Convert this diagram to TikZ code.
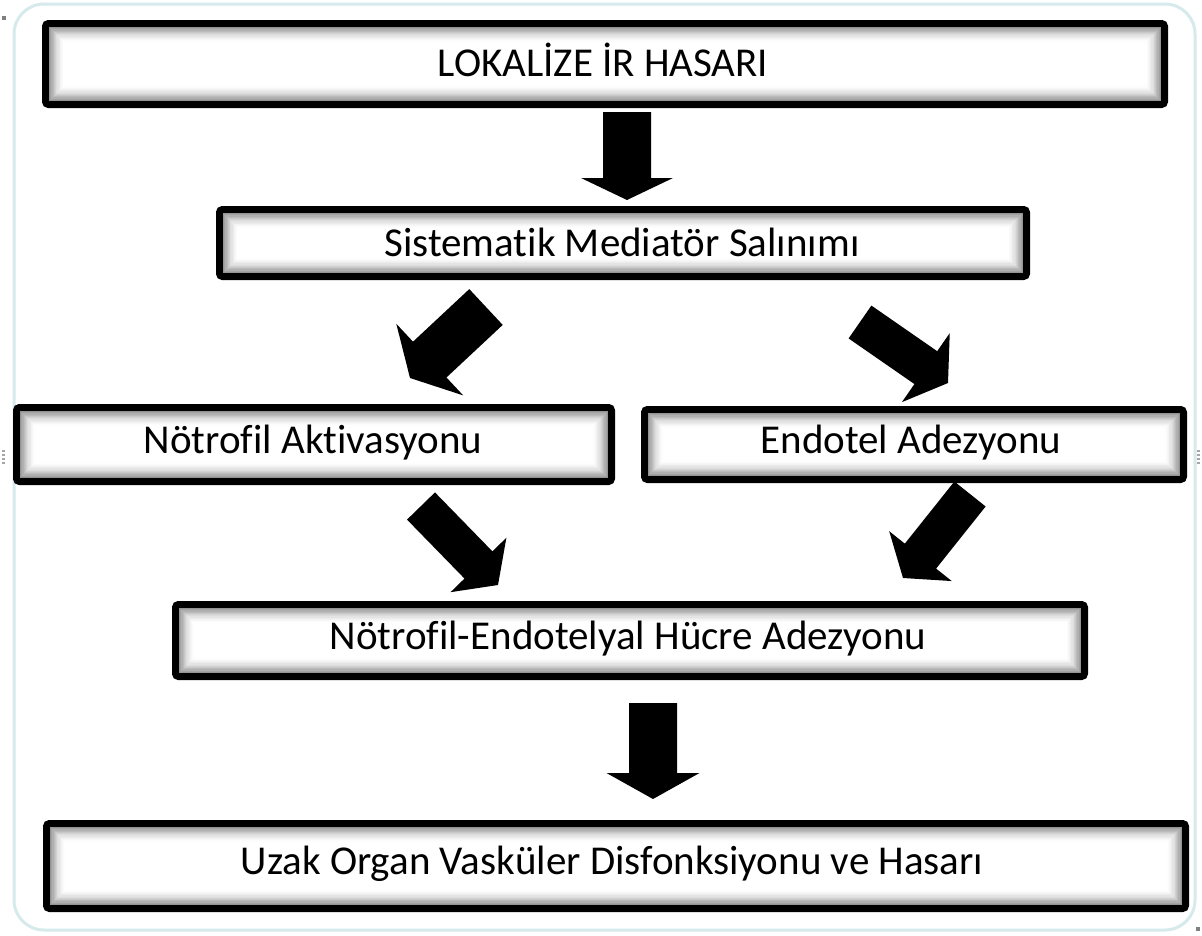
\documentclass[tikz,border=0pt]{standalone}
\usepackage{fontspec}
\setmainfont{Carlito}[Ligatures=NoCommon]
\usetikzlibrary{calc}
\definecolor{framec}{RGB}{214,234,236}
\tikzset{
  box/.style={draw=black, line width=7pt, fill=white, rounded corners=3pt,
    inner sep=0pt, outer sep=0pt, text=black},
  lbl/.style={font=\fontsize{41}{48}\selectfont, text=black, inner sep=0pt},
  blk/.style={fill=black},
}
\newcommand\glowbox[1]{%
  \foreach \i in {1,...,13}{%
    \pgfmathsetmacro\g{42*(1-(\i-1)/13)^1.8}%
    \draw[draw=black!\g, line width=1.3pt]
      ([shift={(\i*1.2+2.9,\i*1.2+2.9)}]#1.north west) rectangle
      ([shift={(-\i*1.2-2.9,-\i*1.2-2.9)}]#1.south east);
  }}
% #1 tail, #2 tip, #3 half shaft, #4 half head, #5 head length
\newcommand\blockarr[5]{%
  \path ($(#2)!#5!(#1)$) coordinate (bb);
  \fill[blk] ($(#1)!#3!90:(#2)$) -- ($(bb)!#3!90:(#2)$) -- ($(bb)!#4!90:(#2)$)
    -- (#2) -- ($(bb)!#4!-90:(#2)$) -- ($(bb)!#3!-90:(#2)$)
    -- ($(#1)!#3!-90:(#2)$) -- cycle;
}
\begin{document}
\begin{tikzpicture}[x=1pt,y=-1pt]
\useasboundingbox (0,0) rectangle (1202,935);
\fill[white] (0,0) rectangle (1202,935);
% outer frame
\draw[framec, line width=3pt, rounded corners=30pt] (14,4) rectangle (1195,930);
% selection handles
\fill[gray] (2,16) rectangle (6,20);
\foreach \yy in {450,454,458,462}{\fill[gray!70] (2,\yy) rectangle (5,\yy+2);}
\foreach \yy in {450,454,458,462}{\fill[gray!70] (1197,\yy) rectangle (1200,\yy+2);}
\fill[gray] (1196,927) rectangle (1200,931);

% boxes
\node[box, minimum width=1119pt, minimum height=81pt] (b1) at (605,64) {};
\node[box, minimum width=807pt, minimum height=67pt] (b2) at (623,243) {};
\node[box, minimum width=595pt, minimum height=74pt] (b3) at (314,444.5) {};
\node[box, minimum width=539pt, minimum height=70pt] (b4) at (914,444.5) {};
\node[box, minimum width=909pt, minimum height=72pt] (b5) at (630,640.5) {};
\node[box, minimum width=1139pt, minimum height=85pt] (b6) at (616,866) {};
\glowbox{b1}\glowbox{b2}\glowbox{b3}\glowbox{b4}\glowbox{b5}\glowbox{b6}
\node[lbl] (t1) at ($(b1)+(-2,-4)$) {LOKALİZE İR HASARI};
\node[lbl] (t2) at ($(b2)+(-1,-1)$) {Sistematik Mediatör Salınımı};
\node[lbl] (t3) at ($(b3)+(-1,-2)$) {Nötrofil Aktivasyonu};
\node[lbl] (t4) at ($(b4)+(-3,-2)$) {Endotel Adezyonu};
\node[lbl] (t5) at ($(b5)+(-2,-2)$) {Nötrofil-Endotelyal Hücre Adezyonu};
\node[lbl] (t6) at ($(b6)+(-4,-2)$) {Uzak Organ Vasküler Disfonksiyonu ve Hasarı};

% block arrows
\coordinate (a1t) at (627,112); \coordinate (a1h) at (627,200);
\coordinate (a2t) at (486,307); \coordinate (a2h) at (410,378);
\coordinate (a3t) at (860,322); \coordinate (a3h) at (948,383);
\coordinate (a4t) at (421,506); \coordinate (a4h) at (498,585);
\coordinate (a5t) at (970,494); \coordinate (a5h) at (903,578);
\coordinate (a6t) at (653,703); \coordinate (a6h) at (653,799);
\blockarr{a1t}{a1h}{24pt}{46pt}{22pt}
\blockarr{a2t}{a2h}{24.5pt}{49pt}{27pt}
\blockarr{a3t}{a3h}{20pt}{42pt}{27pt}
\blockarr{a4t}{a4h}{19.5pt}{39pt}{28pt}
\blockarr{a5t}{a5h}{20pt}{40pt}{28pt}
\blockarr{a6t}{a6h}{24pt}{46.5pt}{26pt}
\end{tikzpicture}
\end{document}
